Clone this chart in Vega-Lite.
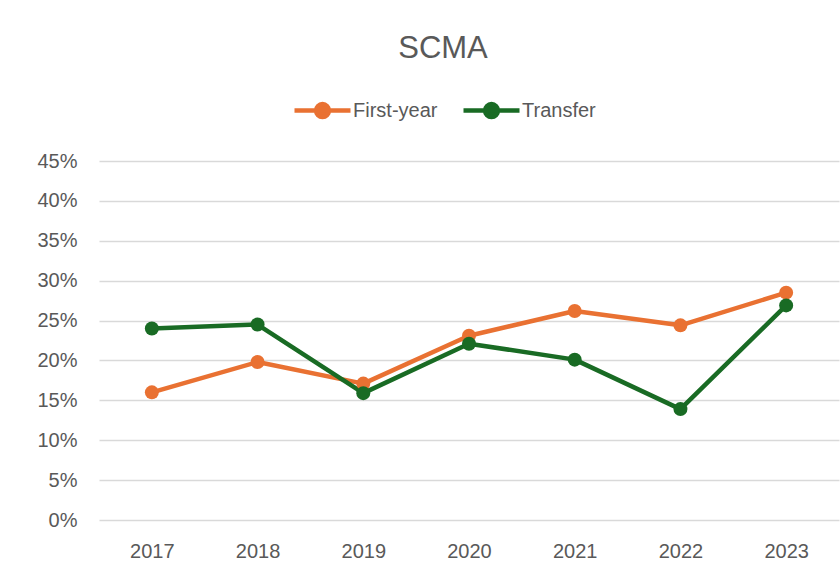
{
  "$schema": "https://vega.github.io/schema/vega-lite/v6.json",
  "width": 740,
  "height": 359,
  "autosize": {"type": "none"},
  "padding": {"left": 99, "top": 161, "right": 1, "bottom": 56},
  "background": "white",
  "config": {
    "view": {"stroke": null},
    "font": "Liberation Sans"
  },
  "title": {
    "text": "SCMA",
    "fontSize": 31,
    "fontWeight": "normal",
    "color": "#595959",
    "anchor": "middle",
    "dx": -26,
    "dy": 41,
    "baseline": "alphabetic",
    "offset": 32
  },
  "data": {
    "values": [
      {"year": "2017", "series": "First-year", "rate": 0.160},
      {"year": "2018", "series": "First-year", "rate": 0.198},
      {"year": "2019", "series": "First-year", "rate": 0.171},
      {"year": "2020", "series": "First-year", "rate": 0.231},
      {"year": "2021", "series": "First-year", "rate": 0.262},
      {"year": "2022", "series": "First-year", "rate": 0.244},
      {"year": "2023", "series": "First-year", "rate": 0.285},
      {"year": "2017", "series": "Transfer", "rate": 0.240},
      {"year": "2018", "series": "Transfer", "rate": 0.245},
      {"year": "2019", "series": "Transfer", "rate": 0.159},
      {"year": "2020", "series": "Transfer", "rate": 0.221},
      {"year": "2021", "series": "Transfer", "rate": 0.201},
      {"year": "2022", "series": "Transfer", "rate": 0.139},
      {"year": "2023", "series": "Transfer", "rate": 0.269}
    ]
  },
  "encoding": {
    "x": {
      "field": "year",
      "type": "ordinal",
      "scale": {"type": "point", "padding": 0.5},
      "axis": {
        "title": null,
        "labelAngle": 0,
        "labelFontSize": 20,
        "labelColor": "#595959",
        "labelPadding": 21,
        "ticks": false,
        "domain": false,
        "grid": false
      }
    },
    "y": {
      "field": "rate",
      "type": "quantitative",
      "scale": {"domain": [0, 0.45], "nice": false},
      "axis": {
        "title": null,
        "values": [0, 0.05, 0.1, 0.15, 0.2, 0.25, 0.3, 0.35, 0.4, 0.45],
        "format": ".0%",
        "labelFontSize": 20,
        "labelColor": "#595959",
        "labelPadding": 22,
        "ticks": false,
        "domain": false,
        "gridColor": "#D9D9D9",
        "gridWidth": 1.3
      }
    },
    "color": {
      "field": "series",
      "type": "nominal",
      "scale": {"domain": ["First-year", "Transfer"], "range": ["#E97132", "#196B24"]},
      "legend": {
        "title": null,
        "orient": "none",
        "direction": "horizontal",
        "legendX": 193,
        "legendY": -81,
        "labelFontSize": 20,
        "labelColor": "#595959",
        "labelOffset": 0,
        "columnPadding": 16,
        "symbolType": "M-1,0L1,0M0.23,0A0.23,0.23,0,1,1,-0.23,0A0.23,0.23,0,1,1,0.23,0Z",
        "symbolSize": 3136,
        "symbolStrokeWidth": 4.5,
        "symbolFillColor": null
      }
    }
  },
  "layer": [
    {
      "mark": {"type": "line", "strokeWidth": 4.5, "strokeCap": "round", "strokeJoin": "round"}
    },
    {
      "mark": {"type": "point", "filled": true, "size": 196, "opacity": 1, "shape": "circle"}
    }
  ]
}
